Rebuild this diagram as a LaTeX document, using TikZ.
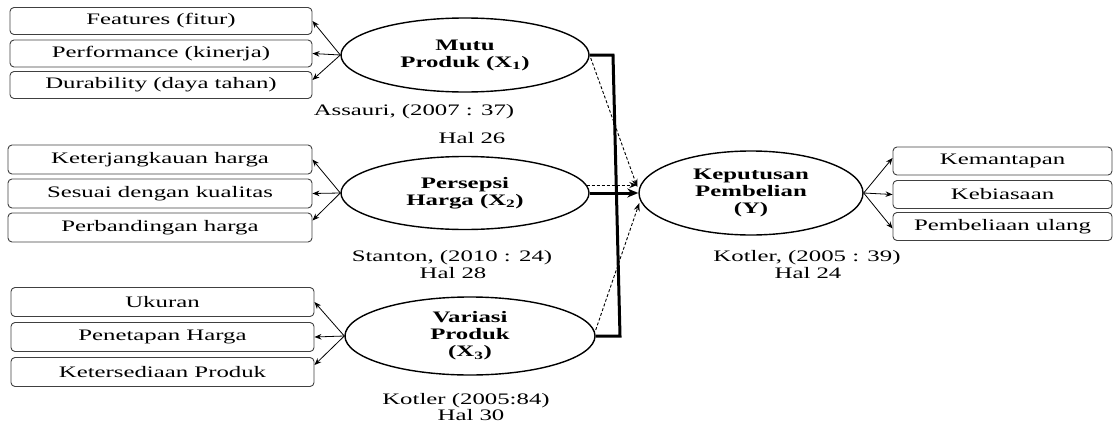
\documentclass[tikz,border=0pt]{standalone}
\usepackage{fontspec}
\setmainfont{Liberation Serif}[FakeStretch=1.55]
\usetikzlibrary{shapes.geometric,arrows.meta,calc}
\begin{document}
\begin{tikzpicture}[x=1pt,y=-1pt,
  ind/.style={draw=black!75,line width=0.9pt,rounded corners=4pt,minimum height=27pt,inner sep=0pt,font=\fontsize{16}{17}\selectfont},
  lat/.style={ellipse,draw,line width=1.4pt,inner sep=0pt,align=center,font=\fontsize{16}{17}\selectfont\bfseries},
  refl/.style={inner sep=0pt,font=\fontsize{16}{16}\selectfont},
  ar/.style={-{Stealth[length=7pt,width=5.5pt]},line width=0.8pt},
  heavy/.style={line width=3pt},
  dashline/.style={dash pattern=on 3pt off 2pt,line width=0.9pt,-{Stealth[length=8pt,width=6pt]}}
]
\useasboundingbox (0,0) rectangle (1114,423);
% left group 1
\node[ind,minimum width=302pt] (a1) at (161,21) {Features (fitur)};
\node[ind,minimum width=302pt] (a2) at (161,53.5) {Performance (kinerja)};
\node[ind,minimum width=302pt] (a3) at (161,85) {Durability (daya tahan)};
% left group 2
\node[ind,minimum width=304pt,minimum height=29pt] (b1) at (160,159.5) {Keterjangkauan harga};
\node[ind,minimum width=304pt,minimum height=29pt] (b2) at (160,193.5) {Sesuai dengan kualitas};
\node[ind,minimum width=304pt,minimum height=29pt] (b3) at (160,227.5) {Perbandingan harga};
% left group 3
\node[ind,minimum width=303pt,minimum height=29pt] (c1) at (162.5,302) {Ukuran};
\node[ind,minimum width=303pt,minimum height=29pt] (c2) at (162.5,337) {Penetapan Harga};
\node[ind,minimum width=303pt,minimum height=29pt] (c3) at (162.5,372) {Ketersediaan Produk};
% right group
\node[ind,minimum width=219pt,minimum height=28pt] (d1) at (1002.5,161) {Kemantapan};
\node[ind,minimum width=219pt,minimum height=28pt] (d2) at (1002.5,194.5) {Kebiasaan};
\node[ind,minimum width=219pt,minimum height=28pt] (d3) at (1002.5,226.5) {Pembeliaan ulang};
% latent variables
\node[lat,minimum width=248pt,minimum height=74pt] (m) at (465,55) {Mutu\\Produk (X\textsubscript{1})};
\node[lat,minimum width=248pt,minimum height=73pt] (p) at (465,193) {Persepsi\\Harga (X\textsubscript{2})};
\node[lat,minimum width=250pt,minimum height=78pt] (v) at (470,336) {Variasi\\Produk\\(X\textsubscript{3})};
\node[lat,minimum width=224pt,minimum height=84pt] (k) at (751,193) {Keputusan\\Pembelian\\(Y)};
% references
\node[refl] (r1) at (414,112) {Assauri, (2007 : 37)};
\node[refl] (r1b) at (472,138) {Hal 26};
\node[refl] (r2) at (452,258) {Stanton, (2010 : 24)};
\node[refl] (r2b) at (453,273) {Hal 28};
\node[refl] (r3) at (466,401) {Kotler (2005:84)};
\node[refl] (r3b) at (471,415) {Hal 30};
\node[refl] (r4) at (807,258) {Kotler, (2005 : 39)};
\node[refl] (r4b) at (808,273) {Hal 24};
% indicator arrows
\draw[ar] (m.west) -- (a1.east);
\draw[ar] (m.west) -- (a2.east);
\draw[ar] (m.west) -- ($(a3.east)+(0,-5)$);
\draw[ar] (p.west) -- (b1.east);
\draw[ar] (p.west) -- (b2.east);
\draw[ar] (p.west) -- ($(b3.east)+(0,-7)$);
\draw[ar] (v.west) -- (c1.east);
\draw[ar] (v.west) -- (c2.east);
\draw[ar] (v.west) -- ($(c3.east)+(0,-7)$);
\draw[ar] (k.east) -- ($(d1.west)+(0,-3)$);
\draw[ar] (k.east) -- (d2.west);
\draw[ar] (k.east) -- ($(d3.west)+(0,2)$);
% heavy bracket and arrow
\coordinate (t1) at (613,55);
\coordinate (t2) at (620,336);
\draw[heavy,line join=miter] (m.east) -- (t1) -- (t2) -- (v.east);
\draw[heavy,-{Stealth[length=11pt,width=9pt]}] (p.east) -- (k.west);
% dashed paths
\draw[dashline] ($(m.east)+(1,3)$) -- ($(k.west)+(-1,-6)$);
\draw[dashline] ($(p.east)+(-3,-8)$) -- ($(k.west)+(-1,-8)$);
\draw[dashline] ($(v.east)+(0,-6)$) -- ($(k.west)+(1,10)$);
\end{tikzpicture}
\end{document}
